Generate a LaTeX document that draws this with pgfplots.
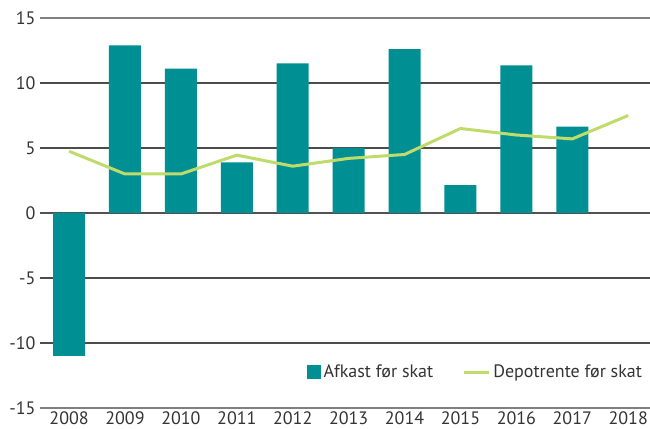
\documentclass[border=0pt]{standalone}
\usepackage{fontspec}
\setmainfont{PT Sans}
\usepackage{pgfplots}
\pgfplotsset{compat=1.18}
\definecolor{barc}{HTML}{008F92}
\definecolor{linec}{HTML}{BFDC6A}
\definecolor{txt}{HTML}{333333}
\begin{document}
\begin{tikzpicture}[font=\fontsize{18}{20}\selectfont]
\begin{axis}[
  scale only axis, width=610pt, height=390pt,
  xmin=-0.52, xmax=10.39, ymin=-15, ymax=15,
  ytick={-10,-5,0,5,10},
  extra y ticks={-15,15}, extra y tick labels={-15,15},
  extra y tick style={grid style={color=black!50, line width=1.8pt}},
  xtick={0,...,10},
  xticklabels={2008,2009,2010,2011,2012,2013,2014,2015,2016,2017,2018},
  axis line style={draw=none},
  major tick length=0pt,
  ymajorgrids,
  grid style={color=black!70, line width=1.4pt},
  tick label style={text=txt},
  /pgf/number format/assume math mode=true,
  yticklabel style={xshift=-1pt},
  xticklabel style={yshift=0pt},
  legend columns=2,
  legend style={at={(0.997,0.092)}, anchor=east, draw=none, fill=none,
    text=txt, /tikz/every even column/.append style={column sep=26pt},
    nodes={inner sep=3pt}},
  clip=false,
]
\draw[color=black!68, line width=2.6pt] (axis cs:-0.52,0) -- (axis cs:10.39,0);
\addplot[ybar, bar width=32pt, fill=barc, draw=none,
  legend image code/.code={\fill[barc] (0pt,-7pt) rectangle (14pt,7pt);}]
  coordinates {(0,-11) (1,12.9) (2,11.1) (3,3.9) (4,11.5) (5,5.0) (6,12.6) (7,2.15) (8,11.35) (9,6.65)};
\addlegendentry{Afkast før skat}
\addplot[color=linec, line width=3pt, mark=none,
  legend image code/.code={\draw[linec, line width=3pt] (0pt,0pt) -- (25pt,0pt);}]
  coordinates {(0,4.75) (1,3.0) (2,3.0) (3,4.45) (4,3.6) (5,4.2) (6,4.5) (7,6.5) (8,6.0) (9,5.7) (10,7.5)};
\addlegendentry{Depotrente før skat}
\end{axis}
\pgfresetboundingbox
\path[use as bounding box] ([shift={(-40pt,-21pt)}]current axis.south west) rectangle ([shift={(0pt,18pt)}]current axis.north east);
\end{tikzpicture}
\end{document}
